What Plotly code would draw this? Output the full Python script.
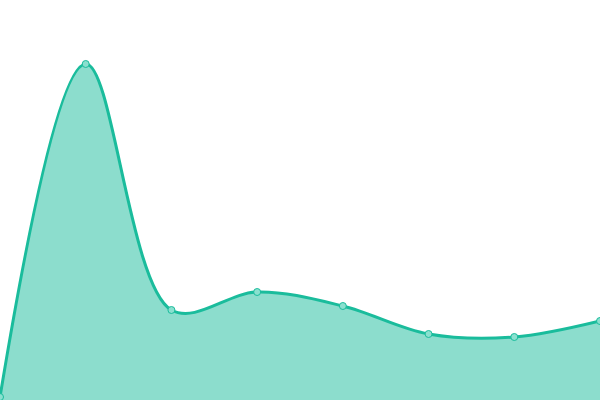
import plotly.graph_objects as go

# Data (y in chart units, 0 at bottom, 400 at top)
x_vals = [0, 1, 2, 3, 4, 5, 6, 7]
y_vals = [3, 336, 90, 108, 94, 66, 63, 79]

line_color = "#1abc9c"
fill_color = "rgba(26,188,156,0.5)"

fig = go.Figure()
fig.add_trace(go.Scatter(
    x=x_vals, y=y_vals,
    mode="lines+markers",
    line=dict(color=line_color, width=3, shape="spline", smoothing=1),
    fill="tozeroy", fillcolor=fill_color,
    marker=dict(size=7, color="#8ae0cf", line=dict(color=line_color, width=1)),
    cliponaxis=False,
    hoverinfo="skip",
))

fig.update_layout(
    width=600, height=400,
    margin=dict(l=0, r=0, t=0, b=0),
    paper_bgcolor="white", plot_bgcolor="white",
    showlegend=False,
    xaxis=dict(range=[0, 7], visible=False, fixedrange=True),
    yaxis=dict(range=[0, 400], visible=False, fixedrange=True),
)

# drop the default page margin so the chart sits flush in the window
fig.write_html("out.html", config={"displayModeBar": False},
               post_script="document.body.style.margin='0';")
